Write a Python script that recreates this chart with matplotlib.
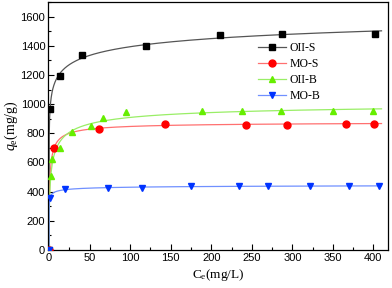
import numpy as np
import matplotlib
matplotlib.use('Agg')
import matplotlib.pyplot as plt

# equilibrium data (Ce in mg/L, qe in mg/g)
oii_s_c = [0, 1.2, 13.6, 41, 119, 211, 287, 402]
oii_s_q = [0, 966, 1195, 1336, 1395, 1472, 1483, 1483]
mo_s_c = [0, 6.2, 61.7, 143, 243, 293, 366, 401]
mo_s_q = [0, 700, 828, 867, 860, 860, 864, 867]
oii_b_c = [0, 2.5, 3.7, 13, 28.7, 51.8, 67, 94.5, 189, 238, 286, 350, 400]
oii_b_q = [0, 506, 627, 696, 809, 850, 908, 949, 951, 951, 951, 951, 951]
mo_b_c = [0, 1.2, 19.7, 72.4, 115, 175, 234, 270, 322, 370, 407]
mo_b_q = [0, 358, 415, 422, 426, 436, 438, 438, 440, 441, 441]


def sips_fit(c, q):
    # least squares Sips isotherm, qm solved linearly on a (K, n) grid
    c, q = np.asarray(c, float), np.asarray(q, float)
    K = np.logspace(-3, 1.5, 181)[:, None, None]
    n = np.linspace(0.2, 2.5, 116)[None, :, None]
    t = (K * c) ** n
    g = t / (1 + t)
    qm = (g * q).sum(-1) / (g * g).sum(-1)
    err = ((qm[..., None] * g - q) ** 2).sum(-1)
    i, j = np.unravel_index(np.argmin(err), err.shape)
    return qm[i, j], K[i, 0, 0], n[0, j, 0]


def sips(c, qm, K, n):
    t = (K * c) ** n
    return qm * t / (1 + t)


serif = ['Liberation Serif', 'DejaVu Serif']
plt.rcParams['font.family'] = ['Liberation Sans', 'DejaVu Sans']
plt.rcParams['mathtext.fontset'] = 'custom'
plt.rcParams['mathtext.rm'] = 'Liberation Serif'
plt.rcParams['mathtext.it'] = 'Liberation Serif:italic'

fig = plt.figure(figsize=(3.92, 2.88), dpi=100)
ax = fig.add_axes([48 / 392, 1 - 250 / 288, 340 / 392, 248 / 288])

series = [
    (oii_s_c, oii_s_q, 'OII-S', 's', 'black', '#555555'),
    (mo_s_c, mo_s_q, 'MO-S', 'o', '#ff0000', '#ff7070'),
    (oii_b_c, oii_b_q, 'OII-B', '^', '#66ee00', '#99ee66'),
    (mo_b_c, mo_b_q, 'MO-B', 'v', '#0033ff', '#7090ff'),
]
cc = np.linspace(0, 410, 2000)
for c, q, name, mk, mcol, lcol in series:
    p = sips_fit(c, q)
    ax.plot(cc, sips(cc, *p), color=lcol, linewidth=0.9, zorder=2)
    ax.plot(c, q, linestyle='none', marker=mk, color=mcol, markersize=5, zorder=3)
    ax.plot([], [], color=lcol, linewidth=0.9, marker=mk, markerfacecolor=mcol,
            markeredgecolor=mcol, markersize=5, label=name)

ax.set_xlim(-1.3, 418)
ax.set_ylim(0, 1700)
ax.set_xticks(np.arange(0, 401, 50))
ax.set_xticks(np.arange(0, 401, 25), minor=True)
ax.set_yticks(np.arange(0, 1601, 200))
ax.set_yticks(np.arange(0, 1701, 100), minor=True)
ax.tick_params(which='both', direction='in', top=False, right=False, labelsize=8, pad=2)
ax.tick_params(which='major', length=4, width=0.8)
ax.tick_params(which='minor', length=2.5, width=0.8)
for s in ax.spines.values():
    s.set_linewidth(0.9)

ax.set_xlabel('C$_\\mathrm{e}$(mg/L)', fontsize=9.5, family=serif, labelpad=3)
ax.set_ylabel('$q_\\mathrm{e}$(mg/g)', fontsize=10, family=serif, labelpad=0)

ax.legend(loc='upper left', bbox_to_anchor=(0.618, 0.84), frameon=False,
          prop={'family': serif, 'size': 8.5}, handlelength=2.4,
          handletextpad=0.3, labelspacing=0.35, borderpad=0, borderaxespad=0)

fig.savefig('out.png', dpi=100)
